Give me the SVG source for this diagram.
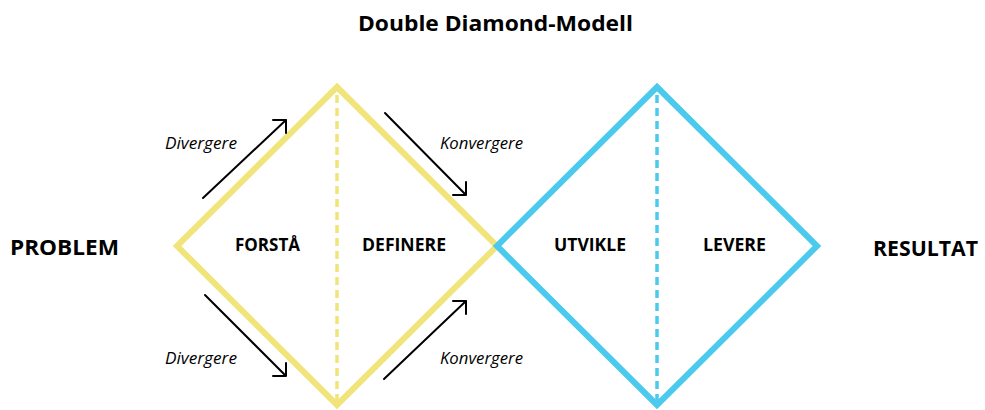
<svg xmlns="http://www.w3.org/2000/svg" width="985" height="410" viewBox="0 0 985 410">
  <style>
    .title { font-family: "Open Sans", "Noto Sans", sans-serif; font-weight: 700; font-size: 21px; fill: #000; }
    .side { font-family: "Open Sans", "Noto Sans", sans-serif; font-weight: 700; font-size: 22px; fill: #000; }
    .phase { font-family: "Open Sans", "Noto Sans", sans-serif; font-weight: 700; font-size: 18px; fill: #000; }
    .mode { font-family: "Open Sans", "Noto Sans", sans-serif; font-style: italic; font-size: 16.5px; fill: #000; }
    .yellow { fill: none; stroke: #F0E47A; stroke-width: 6; stroke-linejoin: miter; }
    .blue { fill: none; stroke: #4BCAEE; stroke-width: 6; stroke-linejoin: miter; }
    .split { fill: none; stroke-width: 3.5; stroke-dasharray: 8 5; }
    .arrow { fill: none; stroke: #000; stroke-width: 2; stroke-linecap: round; stroke-linejoin: round; }
  </style>

  <text class="title" x="358" y="31" textLength="275" lengthAdjust="spacingAndGlyphs">Double Diamond-Modell</text>

  <g id="problem"><text class="side" x="10" y="255" textLength="109" lengthAdjust="spacingAndGlyphs">PROBLEM</text></g>
  <g id="resultat"><text class="side" x="873" y="256" textLength="105" lengthAdjust="spacingAndGlyphs">RESULTAT</text></g>

  <!-- first diamond: discover / define -->
  <g id="diamond-1">
    <polygon class="yellow" points="337,87 497,246 337,405 177,246"/>
    <line class="split" x1="337" y1="95" x2="337" y2="402" stroke="#F0E47A"/>
    <text class="phase" x="235" y="251" textLength="65" lengthAdjust="spacingAndGlyphs">FORSTÅ</text>
    <text class="phase" x="362" y="251" textLength="84" lengthAdjust="spacingAndGlyphs">DEFINERE</text>
  </g>

  <!-- second diamond: develop / deliver -->
  <g id="diamond-2">
    <polygon class="blue" points="657,87 817,246 657,405 497,246"/>
    <line class="split" x1="657" y1="95" x2="657" y2="402" stroke="#4BCAEE"/>
    <text class="phase" x="554" y="251" textLength="72" lengthAdjust="spacingAndGlyphs">UTVIKLE</text>
    <text class="phase" x="703" y="251" textLength="63" lengthAdjust="spacingAndGlyphs">LEVERE</text>
  </g>

  <!-- direction arrows with open heads -->
  <g id="connectors">
    <path class="arrow" d="M203,198 L286,120 M273,120 L286,120 L286,133"/>
    <path class="arrow" d="M385,113 L466,195 M466,182 L466,195 L453,195"/>
    <path class="arrow" d="M205,295 L286,376 M286,363 L286,376 L273,376"/>
    <path class="arrow" d="M384,379 L466,301 M453,301 L466,301 L466,314"/>
  </g>

  <g id="labels">
    <text class="mode" x="165" y="149" textLength="72" lengthAdjust="spacingAndGlyphs">Divergere</text>
    <text class="mode" x="440" y="149" textLength="83" lengthAdjust="spacingAndGlyphs">Konvergere</text>
    <text class="mode" x="165" y="364" textLength="72" lengthAdjust="spacingAndGlyphs">Divergere</text>
    <text class="mode" x="440" y="364" textLength="83" lengthAdjust="spacingAndGlyphs">Konvergere</text>
  </g>
</svg>
